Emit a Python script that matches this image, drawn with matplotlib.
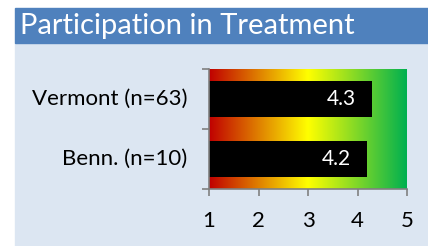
import matplotlib.pyplot as plt
import numpy as np
from matplotlib.colors import LinearSegmentedColormap
from matplotlib.patches import Rectangle

plt.rcParams['font.family'] = ['Lato', 'DejaVu Sans']

# data
groups = ['Vermont (n=63)', 'Benn. (n=10)']
scores = [4.3, 4.2]
title = 'Participation in Treatment'

W, H = 428, 246
fig = plt.figure(figsize=(W / 100, H / 100), dpi=100)
fig.patch.set_facecolor('white')

# panel background + title bar
fig.patches.append(Rectangle((15 / W, 0), 1 - 15 / W, 1 - 43 / H,
                             transform=fig.transFigure, color='#dce6f2', zorder=-10))
fig.patches.append(Rectangle((15 / W, 1 - 43 / H), 1 - 15 / W, 35 / H,
                             transform=fig.transFigure, color='#4f81bd', zorder=-10))
fig.text(20 / W, 1 - 26 / H, title, color='white', fontsize=21, va='center', ha='left')

ax = fig.add_axes([209 / W, 1 - 189 / H, 198 / W, 120 / H])
ax.set_facecolor('none')

# red-yellow-green gradient behind the bars
cmap = LinearSegmentedColormap.from_list('ryg', [(0, '#c00000'), (0.5, '#ffff00'), (1, '#00b050')])
grad = np.linspace(0, 1, 256).reshape(1, -1)
ax.imshow(grad, cmap=cmap, aspect='auto', extent=(1, 5, 0, 2), zorder=0)

ypos = np.array([1.5, 0.5])
ax.barh(ypos, np.array(scores) - 1, left=1, height=0.6, color='black', zorder=2)
for y, v in zip(ypos, scores):
    ax.text(v - 0.33, y, f'{v:.1f}', color='white', fontsize=15, ha='right', va='center', zorder=3)

ax.set_xlim(1, 5)
ax.set_ylim(0, 2)
ax.set_xticks([1, 2, 3, 4, 5])
ax.set_yticks([0, 1, 2])
ax.set_yticklabels([])
for y, g in zip(ypos, groups):
    ax.text(-0.11, y, g, transform=ax.get_yaxis_transform(), ha='right', va='center', fontsize=16)

for s in ['top', 'right']:
    ax.spines[s].set_visible(False)
for s in ['left', 'bottom']:
    ax.spines[s].set_color('#808080')
    ax.spines[s].set_linewidth(1.2)
ax.tick_params(axis='both', colors='#808080', length=5, width=1.2, labelsize=16, labelcolor='black')
ax.tick_params(axis='x', pad=11)

fig.savefig('out.png', dpi=100)
